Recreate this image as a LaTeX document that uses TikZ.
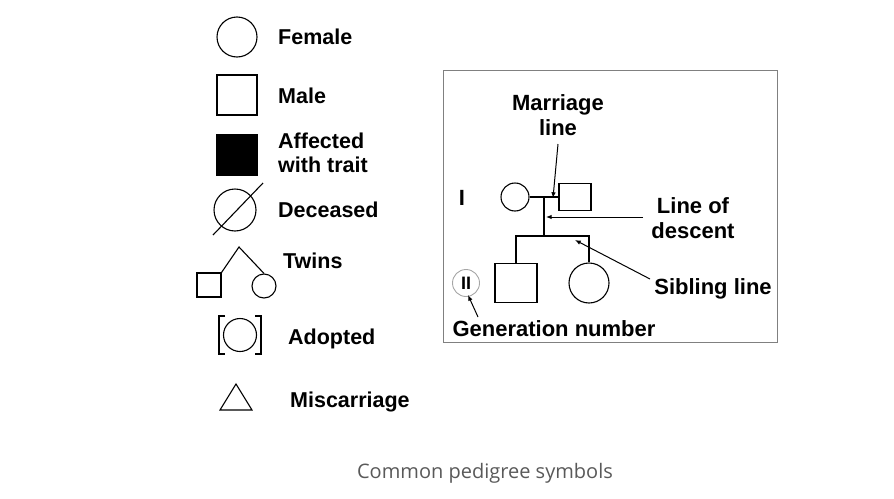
\documentclass[tikz,border=0pt]{standalone}
\usepackage{fontspec}
\setmainfont{Liberation Sans}
\newfontfamily\captionfont{Open Sans}
\usetikzlibrary{arrows.meta, positioning}
\tikzset{%
  >={Latex[width=1.6mm,length=2mm]},
  % Specifications for style of nodes:
    base/.style = {draw=black, line width=1.1pt, inner sep=0pt},
    femaleSym/.style = {base, circle},
    maleSym/.style = {base, rectangle},
    label/.style = {font=\fontsize{21.5}{24}\selectfont\bfseries, anchor=west, inner sep=0pt, align=left},
    boxLabel/.style = {font=\fontsize{22}{25}\selectfont\bfseries, inner sep=0pt, align=center},
}
\begin{document}
\begin{tikzpicture}[x=1pt, y=-1pt]
  \useasboundingbox (0,0) rectangle (894,498);
  % Legend symbols
  \node (female)      [femaleSym, minimum size=40pt] at (237,37) {};
  \node (femaleText)  [label] at (278,37) {Female};
  \node (male)        [maleSym, minimum size=40pt] at (237,95) {};
  \node (maleText)    [label] at (278,96) {Male};
  \node (affected)    [maleSym, fill=black, minimum size=40pt] at (237,155) {};
  \node (affectedText) [label] at (278,153) {Affected\\with trait};
  \node (deceased)    [femaleSym, minimum size=42pt] at (235,210) {};
  \coordinate (decA) at (213,235);
  \coordinate (decB) at (263,183);
  \draw[line width=1.1pt] (decA) -- (decB);
  \node (deceasedText) [label] at (278,210) {Deceased};
  \coordinate (twinApex) at (239,247);
  \node (twinMale)    [maleSym, minimum size=24pt] at (209,285) {};
  \node (twinFemale)  [femaleSym, minimum size=24pt] at (264,286) {};
  \draw[line width=1.1pt] (twinMale.north east) -- (twinApex) -- (twinFemale.north);
  \node (twinsText)   [label] at (283,261) {Twins};
  \node (adopted)     [femaleSym, minimum width=30pt, minimum height=33pt] at (240,335) {};
  \draw[line width=1.1pt] (225,316) -- (219,316) -- (219,354) -- (225,354);
  \draw[line width=1.1pt] (255,316) -- (261,316) -- (261,354) -- (255,354);
  \node (adoptedText) [label] at (288,339) {Adopted};
  \coordinate (triA) at (220,410);
  \coordinate (triB) at (252,410);
  \coordinate (triC) at (236,384);
  \draw[line width=1.1pt] (triA) -- (triB) -- (triC) -- cycle;
  \node (miscText)    [label] at (290,402) {Miscarriage};

  % Example pedigree
  \draw[gray, line width=0.8pt] (443,70) rectangle (777,342);
  \node (genI)        [boxLabel] at (462,198) {I};
  \node (mother)      [femaleSym, minimum size=28pt] at (515,197) {};
  \node (father)      [maleSym, minimum width=32pt, minimum height=27pt] at (575,197) {};
  \node (son)         [maleSym, minimum width=42pt, minimum height=39pt] at (516,283) {};
  \node (daughter)    [femaleSym, minimum size=40pt] at (589,283) {};
  \node (genII)       [femaleSym, draw=gray!70, line width=0.9pt, minimum size=27pt,
                       font=\fontsize{18}{20}\selectfont\bfseries] at (466,283) {II};
  \coordinate (marriageMid) at (544,197);
  \coordinate (siblingMid) at (544,236);
  \coordinate (siblingL) at (516,236);
  \coordinate (siblingR) at (589,236);
  \draw[line width=1.1pt] (mother) -- (father);
  \draw[line width=1.1pt] (marriageMid) -- (siblingMid);
  \draw[line width=1.1pt] (son.north) -- (siblingL) -- (siblingR) -- (daughter.north);

  \node (marriageText) [boxLabel] at (558,115) {Marriage\\line};
  \node (descentText)  [boxLabel] at (693,218) {Line of\\descent};
  \node (siblingText)  [boxLabel] at (713,289) {Sibling line};
  \node (genText)      [boxLabel] at (554,329) {Generation number};
  \coordinate (descentTip) at (546,217);
  \coordinate (marriageTip) at (553,198);
  \coordinate (siblingTip) at (575,240);
  \coordinate (genTip) at (468,295);

  % Specification of pointer lines
  \draw[->, line width=1pt] (558,144) -- (marriageTip);
  \draw[->, line width=1pt] (643,217) -- (descentTip);
  \draw[->, line width=1pt] (650,279) -- (siblingTip);
  \draw[->, line width=1pt] (478,317) -- (genTip);

  \node (caption) [text=black!65, font=\captionfont\fontsize{20}{23}\selectfont] at (485,473)
                                   {Common pedigree symbols};
\end{tikzpicture}
\end{document}
